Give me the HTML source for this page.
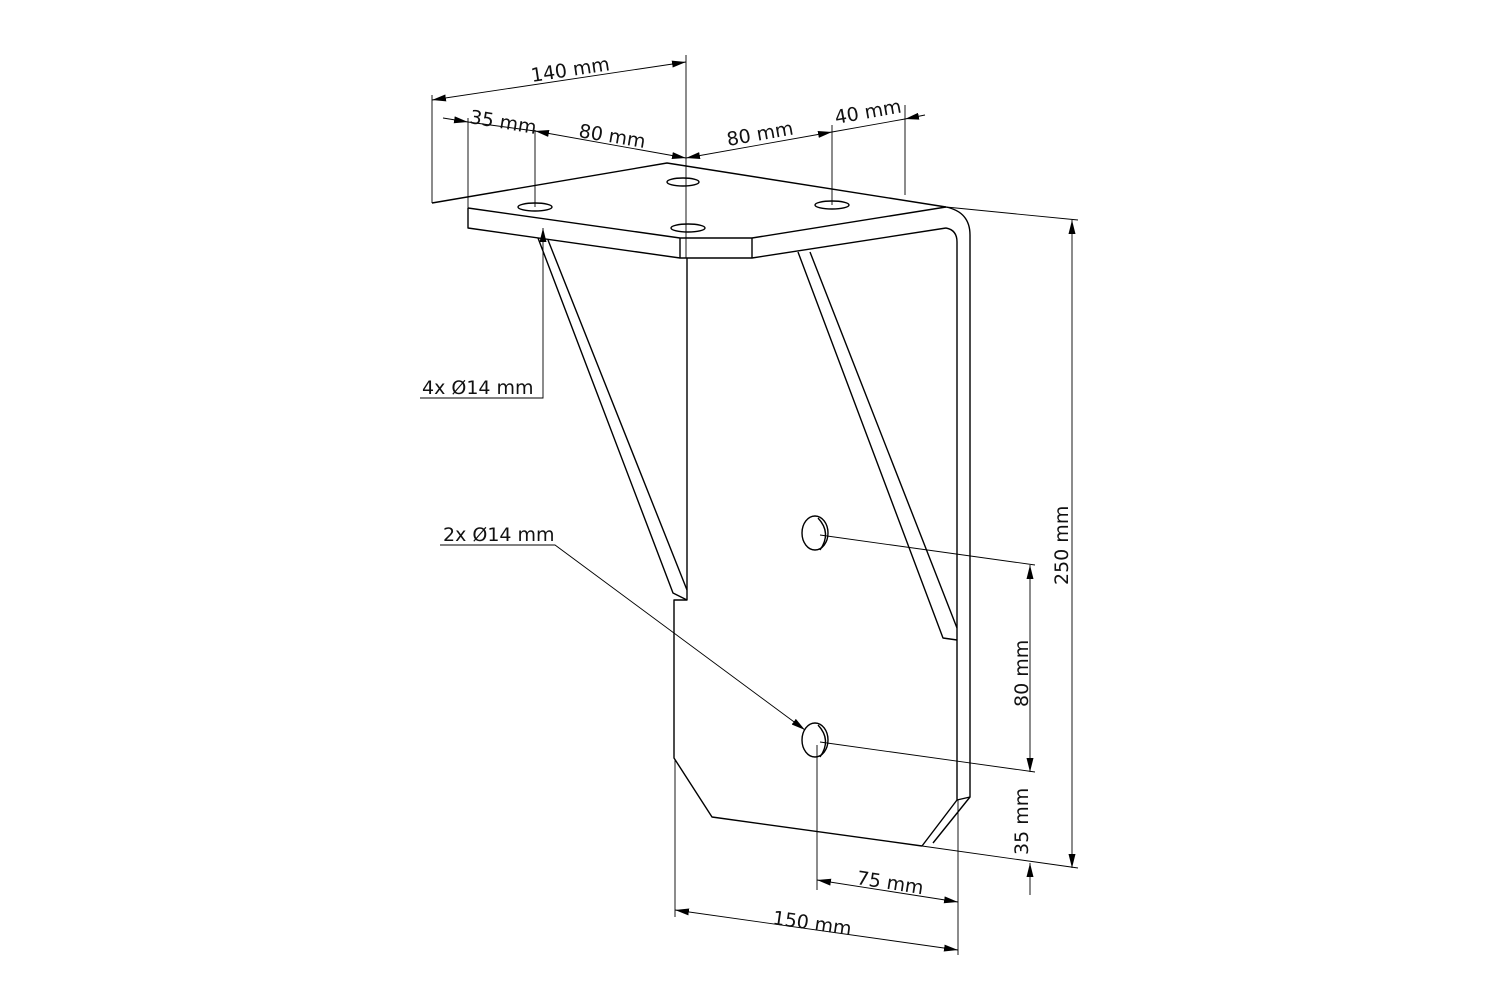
<!DOCTYPE html>
<html><head><meta charset="utf-8"><style>
html,body{margin:0;padding:0;background:#fff}
svg{display:block}
text{font-family:"DejaVu Sans","Liberation Sans",sans-serif;font-size:19px;fill:#111}
</style></head><body>
<svg width="1500" height="1000" viewBox="0 0 1500 1000" xmlns="http://www.w3.org/2000/svg">
<defs>
<marker id="a" viewBox="0 0 12 6" refX="12" refY="3" markerWidth="14" markerHeight="7" orient="auto-start-reverse" markerUnits="userSpaceOnUse">
<path d="M0,0 L12,3 L0,6 Z" fill="#000"/></marker>
</defs>
<g fill="none" stroke="#000" stroke-width="1.4" stroke-linejoin="round">
<!-- top plate -->
<path d="M432,203 L667,163 L946,207"/>
<path d="M468,208 L680,238 L752,238 L946,207"/>
<path d="M468,208 L468,228 L680,258 L752,258 L946,228"/>
<path d="M680,238 L680,258 M752,238 L752,258"/>
<path d="M946,207 Q970,212 970,235 L970,797 L933,843"/>
<path d="M946,228 Q957,230 957,242 L957,800 L922,846"/>
<path d="M957,800 L970,797"/>
<!-- back plate -->
<path d="M687,258 L687,600 L674,600 L674,758 L712,817 L922,846"/>
<!-- gussets -->
<path d="M538,238 L673,593 L687,600"/>
<path d="M548,240 L687,590"/>
<path d="M798,252 L943,638 L957,640"/>
<path d="M810,252 L957,628"/>
<!-- holes -->
<ellipse cx="535" cy="207" rx="17" ry="4"/>
<ellipse cx="683" cy="182" rx="16" ry="4"/>
<ellipse cx="688" cy="228" rx="17" ry="4"/>
<ellipse cx="832" cy="205" rx="17" ry="4"/>
<ellipse cx="815" cy="533" rx="13" ry="17"/>
<path d="M818,518 Q832,533 820,550"/>
<ellipse cx="815" cy="740" rx="13" ry="17"/>
<path d="M818,725 Q832,740 820,757"/>
</g>
<g fill="none" stroke="#000" stroke-width="0.9">
<!-- extension lines -->
<path d="M432,95 L432,203 M686,55 L686,258 M468,118 L468,228 M535,130 L535,207 M832,125 L832,205 M905,105 L905,195"/>
<path d="M946,207 L1078,220 M820,535 L1035,565 M820,742 L1035,772 M922,846 L1078,868"/>
<path d="M817,745 L817,890 M675,760 L675,917 M958,800 L958,955"/>
<!-- dims -->
<path d="M432,100 L686,62" marker-start="url(#a)" marker-end="url(#a)"/>
<path d="M443,118 L468,122" marker-end="url(#a)"/>
<path d="M535,131 L686,158" marker-start="url(#a)" marker-end="url(#a)"/>
<path d="M468,122 L535,131"/>
<path d="M686,158 L832,132" marker-start="url(#a)" marker-end="url(#a)"/>
<path d="M832,132 L905,119"/>
<path d="M925,115 L905,119" marker-end="url(#a)"/>
<path d="M1072,220 L1072,868" marker-start="url(#a)" marker-end="url(#a)"/>
<path d="M1030,565 L1030,772" marker-start="url(#a)" marker-end="url(#a)"/>
<path d="M1030,895 L1030,863" marker-end="url(#a)"/>
<path d="M817,880 L958,902" marker-start="url(#a)" marker-end="url(#a)"/>
<path d="M675,910 L958,950" marker-start="url(#a)" marker-end="url(#a)"/>
<!-- leaders -->
<path d="M420,398 L543,398 L543,228" marker-end="url(#a)"/>
<path d="M440,545 L555,545 L805,730" marker-end="url(#a)"/>
</g>
<text transform="translate(532,82) rotate(-8.6)">140 mm</text>
<text transform="translate(469,123) rotate(9.4)">35 mm</text>
<text transform="translate(578,137) rotate(9.4)">80 mm</text>
<text transform="translate(728,146) rotate(-10)">80 mm</text>
<text transform="translate(836,124) rotate(-10)">40 mm</text>
<text transform="translate(1068,585) rotate(-90)">250 mm</text>
<text transform="translate(1028,707) rotate(-90)">80 mm</text>
<text transform="translate(1028,855) rotate(-90)">35 mm</text>
<text transform="translate(856,884) rotate(8.8)">75 mm</text>
<text transform="translate(772,924) rotate(8.1)">150 mm</text>
<text x="422" y="394">4x Ø14 mm</text>
<text x="443" y="541">2x Ø14 mm</text>
</svg>
</body></html>
